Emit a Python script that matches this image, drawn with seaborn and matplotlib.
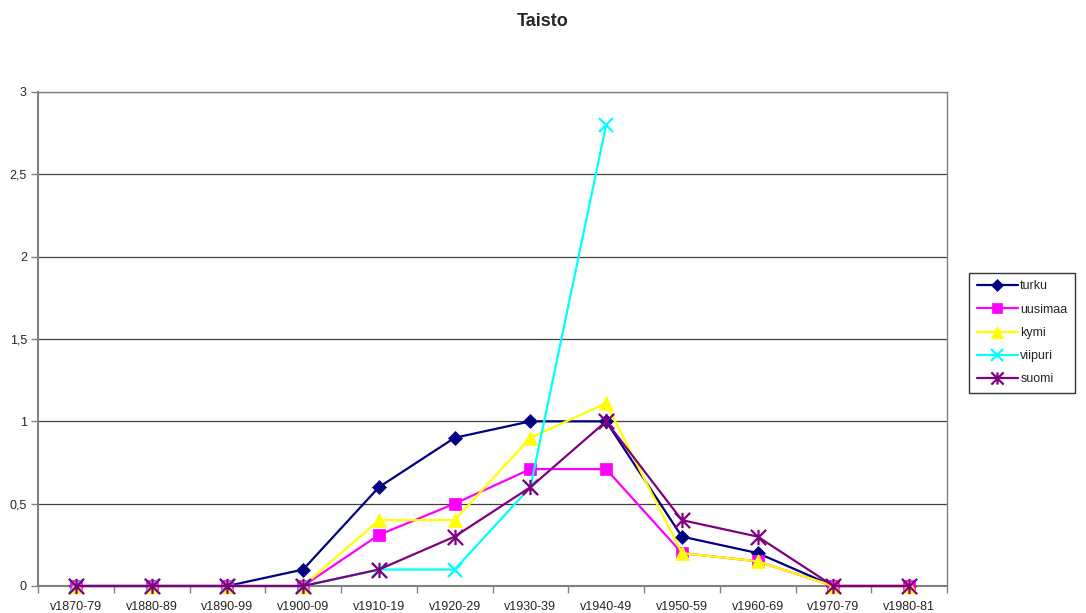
import numpy as np
import pandas as pd
import matplotlib
matplotlib.use("Agg")
import matplotlib.pyplot as plt
import seaborn as sns
from matplotlib.ticker import FixedLocator, FuncFormatter
from matplotlib.path import Path

categories = ["v1870-79", "v1880-89", "v1890-99", "v1900-09", "v1910-19", "v1920-29",
              "v1930-39", "v1940-49", "v1950-59", "v1960-69", "v1970-79", "v1980-81"]
turku   = [0, 0, 0, 0.1, 0.6, 0.9, 1.0, 1.0, 0.3, 0.2, 0, 0]
uusimaa = [0, 0, 0, 0, 0.31, 0.5, 0.71, 0.71, 0.2, 0.15, 0, 0]
kymi    = [0, 0, 0, 0, 0.4, 0.4, 0.9, 1.11, 0.2, 0.15, 0, 0]
viipuri = [0, 0, 0, 0, 0.1, 0.1, 0.6, 2.8, np.nan, np.nan, np.nan, np.nan]
suomi   = [0, 0, 0, 0, 0.1, 0.3, 0.6, 1.0, 0.4, 0.3, 0, 0]

star = Path([(0, -1), (0, 1), (-1, -1), (1, 1), (-1, 1), (1, -1)],
            [Path.MOVETO, Path.LINETO, Path.MOVETO, Path.LINETO, Path.MOVETO, Path.LINETO])

series = {"turku": turku, "uusimaa": uusimaa, "kymi": kymi, "viipuri": viipuri, "suomi": suomi}
colors = {"turku": "#000080", "uusimaa": "#FF00FF", "kymi": "#FFFF00", "viipuri": "#00FFFF", "suomi": "#800080"}
markers = {"turku": "D", "uusimaa": "s", "kymi": "^", "viipuri": "x", "suomi": star}
msizes = {"turku": 7.5, "uusimaa": 9, "kymi": 10, "viipuri": 10, "suomi": 11}

sns.set_style("white")
plt.rcParams['font.family'] = ['Liberation Sans', 'DejaVu Sans']

fig = plt.figure(figsize=(10.86, 6.13), dpi=100)
ax = fig.add_axes([38/1086, 1-586/613, (947-38)/1086, (586-92)/613])

x = np.arange(len(categories))
for name, vals in series.items():
    df = pd.DataFrame({"x": x, "y": vals}).dropna()
    c = colors[name]
    m = markers[name]
    sns.lineplot(data=df, x="x", y="y", ax=ax, color=c, linewidth=1.6,
                 marker=m, markersize=msizes[name], markeredgecolor=c,
                 markerfacecolor=c, markeredgewidth=1.6 if name in ("viipuri", "suomi") else 0.5,
                 label=name, legend=False, clip_on=False, zorder=3)

ax.set_xlim(-0.5, len(categories) - 0.5)
ax.set_ylim(0, 3)
ax.set_xlabel("")
ax.set_ylabel("")

ax.xaxis.set_major_locator(FixedLocator(x))
ax.set_xticklabels(categories, fontsize=9)
ax.xaxis.set_minor_locator(FixedLocator(np.arange(-0.5, len(categories), 1.0)))
ax.tick_params(axis="x", which="major", length=0, pad=11)
ax.tick_params(axis="x", which="minor", length=5, width=1, color="#808080", direction="out")
ax.tick_params(axis="x", which="both", bottom=True)

yt = [0, 0.5, 1, 1.5, 2, 2.5, 3]
ax.yaxis.set_major_locator(FixedLocator(yt))
ax.yaxis.set_major_formatter(FuncFormatter(lambda v, p: ("%g" % v).replace(".", ",")))
ax.tick_params(axis="y", which="major", length=5, width=1, color="#808080", direction="out", labelsize=9, pad=3, left=True)

ax.grid(axis="y", color="#404040", linewidth=0.9)
ax.set_axisbelow(True)
for s in ["top", "right"]:
    ax.spines[s].set_color("#808080")
    ax.spines[s].set_linewidth(1)
for s in ["left", "bottom"]:
    ax.spines[s].set_color("#808080")
    ax.spines[s].set_linewidth(1.5)
    ax.spines[s].set_zorder(2)

fig.suptitle("Taisto", x=0.5, y=1-22/613, va="center", fontsize=13, fontweight="bold")

handles, labels = ax.get_legend_handles_labels()
leg = fig.legend(handles, labels, loc="upper left", bbox_to_anchor=(969/1086, 1-273/613),
                 frameon=True, fancybox=False, edgecolor="black", fontsize=9,
                 handlelength=3.3, borderpad=0.6, labelspacing=0.9, handletextpad=0.2,
                 borderaxespad=0, markerscale=0.8)
leg.get_frame().set_linewidth(1)

fig.savefig("out.png", dpi=100)
